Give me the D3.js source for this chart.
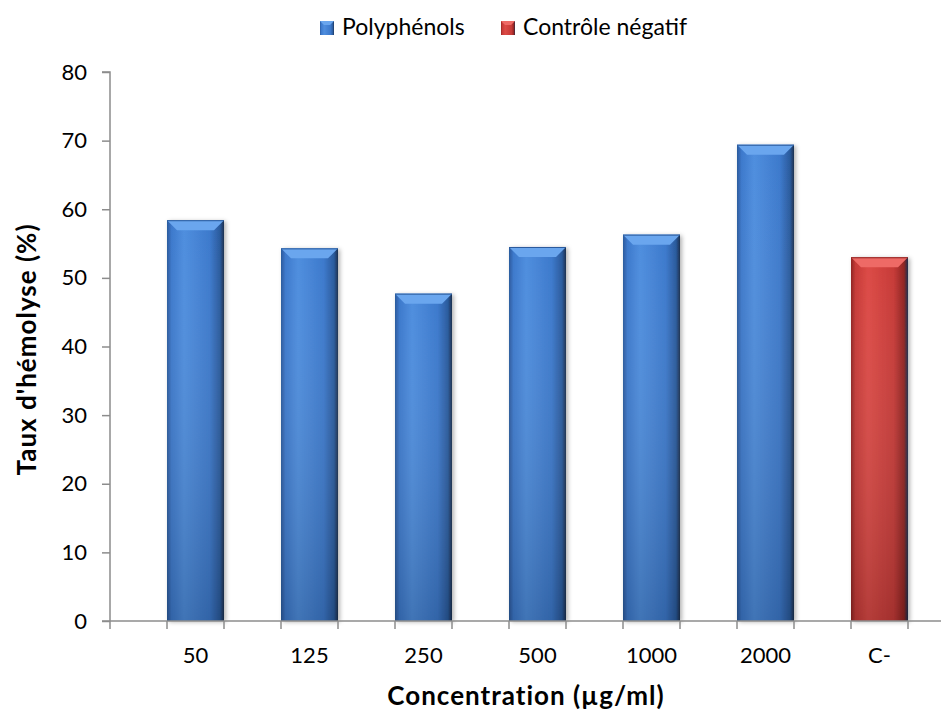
<!DOCTYPE html>
<html>
<head>
<meta charset="utf-8">
<script src="https://cdn.jsdelivr.net/npm/d3@7"></script>
<style>
  body { margin: 0; background: #fff; }
  text { font-family: Lato, "Open Sans", sans-serif; fill: #000; }
</style>
</head>
<body>
<div id="chart"></div>
<script>
// ---------- data ----------
const categories = ["50", "125", "250", "500", "1000", "2000", "C-"];
const values = [58.4, 54.3, 47.7, 54.5, 56.3, 69.4, 53.0];
const series = ["Polyphénols", "Polyphénols", "Polyphénols", "Polyphénols", "Polyphénols", "Polyphénols", "Contrôle négatif"];
const legendNames = ["Polyphénols", "Contrôle négatif"];
const yTicks = [0, 10, 20, 30, 40, 50, 60, 70, 80];

// ---------- setup ----------
const svgWidth = 952, svgHeight = 713;
const margin = {top: 72, right: 11, bottom: 92, left: 110};
const width = svgWidth - margin.left - margin.right;
const height = svgHeight - margin.top - margin.bottom;

const svg = d3.select("#chart").append("svg")
  .attr("width", svgWidth).attr("height", svgHeight);

const colors = {
  "Polyphénols": {light: "#4f8ede", mid: "#3c79cc", dark: "#2a5a9c", top: "#6aa6ee"},
  "Contrôle négatif": {light: "#dc4a46", mid: "#c63a37", dark: "#8f2422", top: "#ee6a66"}
};

// gradients
const defs = svg.append("defs");
legendNames.forEach((name, i) => {
  const c = colors[name];
  const g = defs.append("linearGradient").attr("id", "grad" + i)
    .attr("x1", "0").attr("x2", "1").attr("y1", "0").attr("y2", "0");
  g.append("stop").attr("offset", "0%").attr("stop-color", c.dark);
  g.append("stop").attr("offset", "8%").attr("stop-color", c.mid);
  g.append("stop").attr("offset", "30%").attr("stop-color", c.light);
  g.append("stop").attr("offset", "75%").attr("stop-color", c.mid);
  g.append("stop").attr("offset", "93%").attr("stop-color", c.dark);
  g.append("stop").attr("offset", "100%").attr("stop-color", "#1b2f4f");
  const v = defs.append("linearGradient").attr("id", "vgrad" + i)
    .attr("x1", "0").attr("x2", "0").attr("y1", "0").attr("y2", "1");
  v.append("stop").attr("offset", "0%").attr("stop-color", "#fff").attr("stop-opacity", 0);
  v.append("stop").attr("offset", "100%").attr("stop-color", "#000").attr("stop-opacity", 0.18);
});
defs.append("filter").attr("id", "shadow").attr("x", "-20%").attr("y", "-5%").attr("width", "140%").attr("height", "110%")
  .append("feDropShadow").attr("dx", 2).attr("dy", 1).attr("stdDeviation", 2)
  .attr("flood-color", "#000").attr("flood-opacity", 0.3);

const chartGroup = svg.append("g").attr("transform", `translate(${margin.left}, ${margin.top})`);

// ---------- scales ----------
const xScale = d3.scaleBand().domain(categories)
  .range([28.5, 28.5 + 7 * 114]).paddingInner(0.5).paddingOuter(0.25);
const yScale = d3.scaleLinear().domain([0, 80]).range([height, 0]);

// ---------- bars ----------
const bars = chartGroup.selectAll("g.bar")
  .data(categories.map((c, i) => ({cat: c, val: values[i], s: series[i]})))
  .enter().append("g").attr("class", "bar");

bars.append("rect")
  .attr("x", d => xScale(d.cat))
  .attr("y", d => yScale(d.val))
  .attr("width", xScale.bandwidth())
  .attr("height", d => height - yScale(d.val))
  .attr("fill", d => `url(#grad${legendNames.indexOf(d.s)})`)
  .attr("filter", "url(#shadow)");

bars.append("rect")
  .attr("x", d => xScale(d.cat))
  .attr("y", d => yScale(d.val))
  .attr("width", xScale.bandwidth())
  .attr("height", d => height - yScale(d.val))
  .attr("fill", d => `url(#vgrad${legendNames.indexOf(d.s)})`);

// bevel on top
const bev = 10;
bars.append("path")
  .attr("d", d => {
    const x0 = xScale(d.cat), x1 = x0 + xScale.bandwidth(), y0 = yScale(d.val);
    return `M${x0},${y0}L${x1},${y0}L${x1 - bev},${y0 + bev}L${x0 + bev},${y0 + bev}Z`;
  })
  .attr("fill", d => colors[d.s].top);
bars.append("line")
  .attr("x1", d => xScale(d.cat)).attr("x2", d => xScale(d.cat) + xScale.bandwidth())
  .attr("y1", d => yScale(d.val) + 0.5).attr("y2", d => yScale(d.val) + 0.5)
  .attr("stroke", d => colors[d.s].dark).attr("stroke-width", 1);

// ---------- axes ----------
const yAxis = d3.axisLeft(yScale).tickValues(yTicks).tickSize(8).tickPadding(15);
const gy = chartGroup.append("g").call(yAxis);
gy.select(".domain").attr("stroke", "#8c8c8c").attr("stroke-width", 1.5).attr("d", `M-8,0H0V${height}`);
gy.selectAll(".tick line").attr("stroke", "#8c8c8c").attr("stroke-width", 1.5);
gy.selectAll(".tick text").attr("font-size", "22px").attr("font-family", "Lato, 'Open Sans', sans-serif").attr("fill", "#000");

// x axis line
const axisY = height;
chartGroup.append("line").attr("x1", -8).attr("x2", width).attr("y1", axisY).attr("y2", axisY)
  .attr("stroke", "#8c8c8c").attr("stroke-width", 1.5);
// ticks at left edge and each bar edge
const xTickPos = [0];
categories.forEach(c => { xTickPos.push(xScale(c)); xTickPos.push(xScale(c) + xScale.bandwidth()); });
chartGroup.selectAll("line.xtick").data(xTickPos).enter().append("line")
  .attr("class", "xtick")
  .attr("x1", d => d).attr("x2", d => d)
  .attr("y1", axisY).attr("y2", axisY + 8)
  .attr("stroke", "#8c8c8c").attr("stroke-width", 1.5);
chartGroup.selectAll("text.xlab").data(categories).enter().append("text")
  .attr("class", "xlab")
  .attr("x", d => xScale(d) + xScale.bandwidth() / 2)
  .attr("y", axisY + 42)
  .attr("text-anchor", "middle")
  .attr("font-size", "22px")
  .text(d => d);

// ---------- axis titles ----------
chartGroup.append("text")
  .attr("x", 416).attr("y", height + 84)
  .attr("text-anchor", "middle")
  .attr("font-size", "26px").style("font-weight", "bold")
  .attr("letter-spacing", "1px")
  .text("Concentration (µg/ml)");

chartGroup.append("text")
  .attr("transform", `translate(${-74}, ${height / 2 + 3}) rotate(-90)`)
  .attr("text-anchor", "middle")
  .attr("font-size", "26px").style("font-weight", "bold")
  .attr("letter-spacing", "1px")
  .text("Taux d'hémolyse (%)");

// ---------- legend ----------
const legendX = [320, 501];
const legend = svg.selectAll("g.legend").data(legendNames).enter().append("g")
  .attr("class", "legend")
  .attr("transform", (d, i) => `translate(${legendX[i]}, 21)`);
legend.append("rect").attr("width", 14).attr("height", 14)
  .attr("fill", (d, i) => `url(#grad${i})`);
legend.append("path")
  .attr("d", "M0,0L14,0L10,4L4,4Z")
  .attr("fill", d => colors[d].top);
legend.append("text").attr("x", 22).attr("y", 14)
  .attr("font-size", "23px")
  .text(d => d);
</script>
</body>
</html>
